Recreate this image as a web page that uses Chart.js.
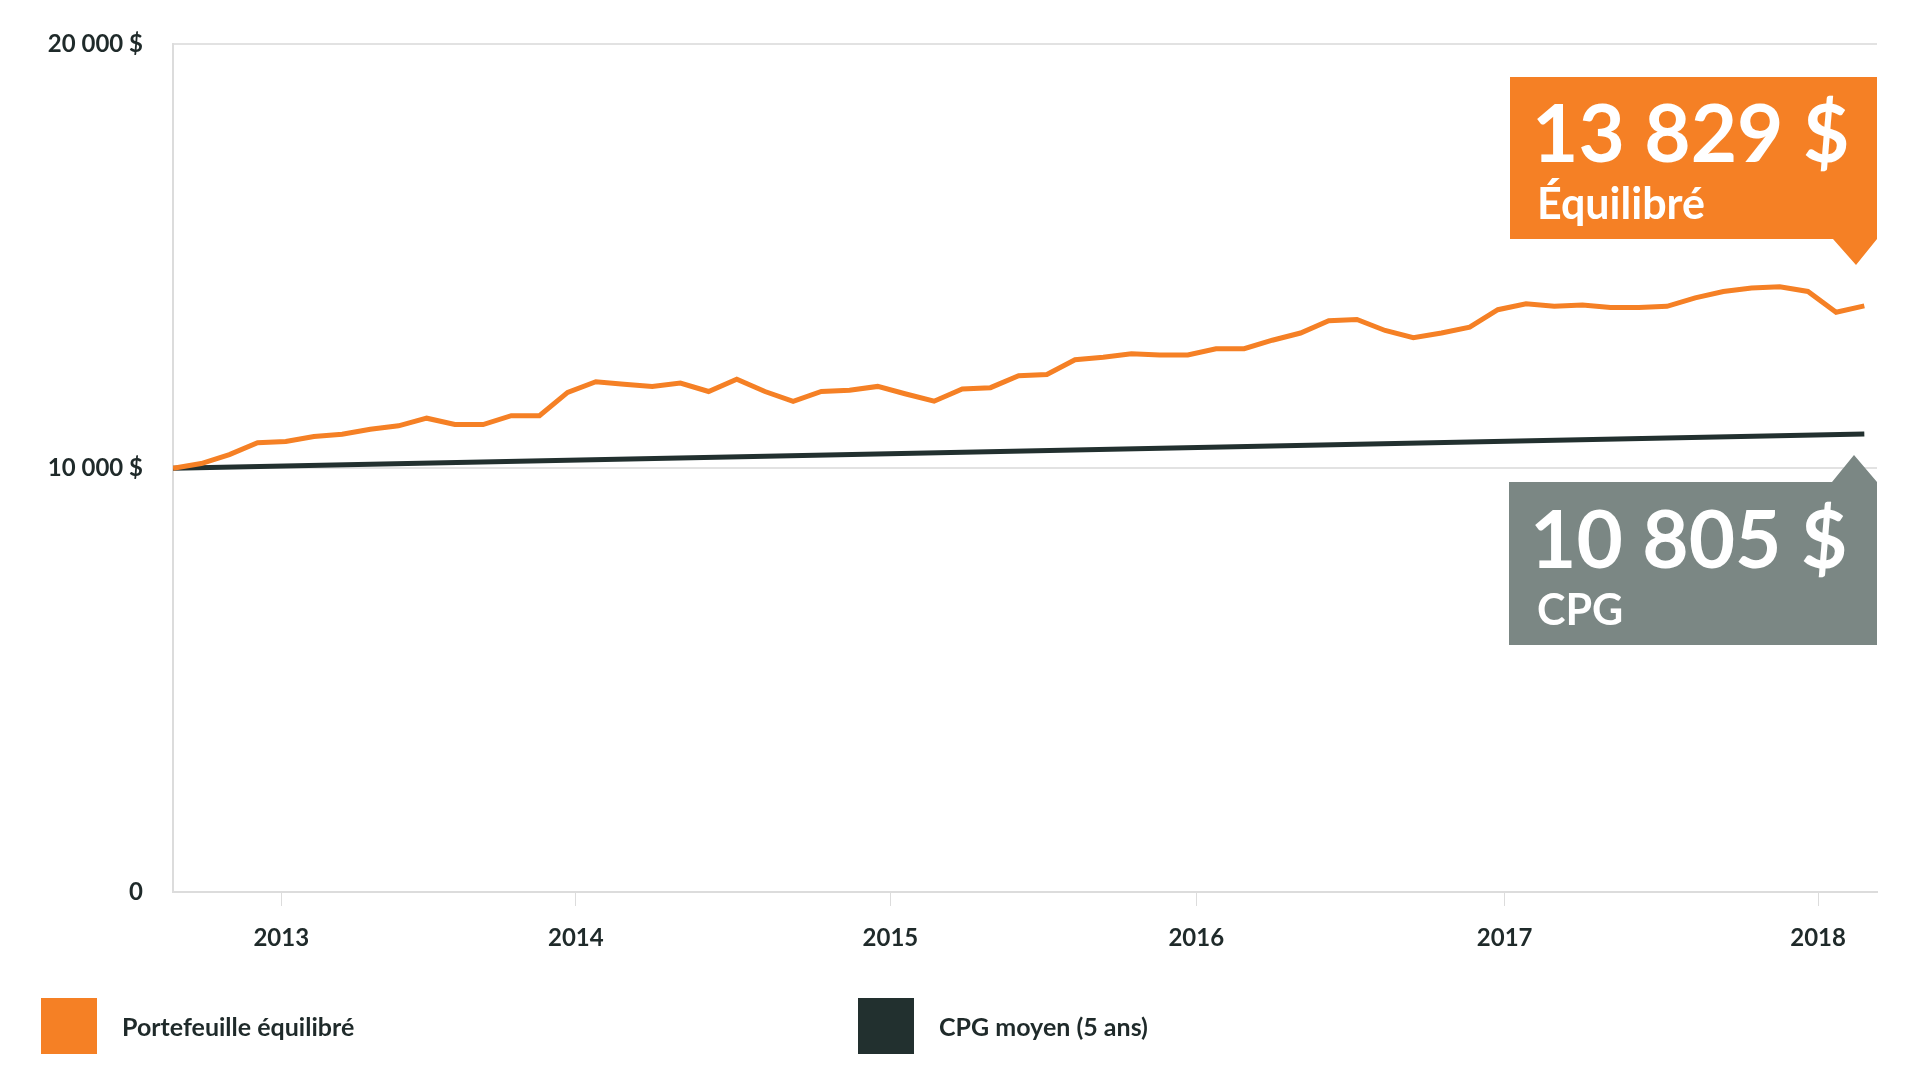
<!DOCTYPE html>
<html><head><meta charset="utf-8">
<script src="https://cdn.jsdelivr.net/npm/chart.js@4"></script>
<style>
html,body{margin:0;padding:0;background:#fff;}
#wrap{position:relative;width:1920px;height:1080px;font-family:Lato,sans-serif;}
.lg{position:absolute;top:998px;display:flex;align-items:center;font-weight:700;font-size:25px;color:#1f2a2a;}
.sw{width:56px;height:56px;margin-right:25px;}
</style></head><body>
<div id="wrap"><canvas id="c" width="1920" height="1080"></canvas>
<div class="lg" style="left:41px"><div class="sw" style="background:#F58025"></div>Portefeuille équilibré</div>
<div class="lg" style="left:858px"><div class="sw" style="background:#22302F"></div>CPG moyen (5 ans)</div>
</div>
<script>
const balanced = [10000,10110,10320,10600,10630,10750,10800,10920,11000,11180,11030,11030,11240,11240,11790,12040,11980,11930,12010,11810,12100,11810,11580,11810,11840,11930,11750,11580,11870,11900,12180,12210,12560,12620,12700,12670,12670,12820,12820,13020,13190,13480,13510,13250,13080,13190,13330,13740,13880,13820,13850,13790,13790,13820,14020,14170,14250,14280,14170,13680,13829];
const cpgX = [0, 60];
const cpgY = [10000, 10805];
const xTickPos = [3.84, 14.29, 25.45, 36.3, 47.24, 58.36];
const xTickLabels = ['2013','2014','2015','2016','2017','2018'];
const yTickLabels = {0:'0',10000:'10 000 $',20000:'20 000 $'};
const endBalanced = '13 829 $', endCpg = '10 805 $';

const labelsPlugin = {id:'boxes', afterDraw(ch){
  const c=ch.ctx; const R=ch.chartArea.right;
  c.save();
  c.fillStyle='#F58025';
  c.beginPath(); c.moveTo(R-367,77); c.lineTo(R,77); c.lineTo(R,239); c.lineTo(R-21,265); c.lineTo(R-44,239); c.lineTo(R-367,239); c.closePath(); c.fill();
  c.fillStyle='#7B8784';
  c.beginPath(); c.moveTo(R-368,482); c.lineTo(R-45,482); c.lineTo(R-23,455); c.lineTo(R,482); c.lineTo(R,645); c.lineTo(R-368,645); c.closePath(); c.fill();
  c.fillStyle='#fff'; c.textBaseline='alphabetic'; c.textAlign='left';
  c.font='700 80px Lato'; c.fillText(endBalanced,R-345,162); c.fillText(endCpg,R-347,568);
  c.font='700 43px Lato'; c.fillText('Équilibré',R-340,219); c.fillText('CPG',R-340,625);
  c.restore();
}};

new Chart(document.getElementById('c'),{
  type:'line',
  data:{datasets:[
    {data:balanced.map((v,i)=>({x:i,y:v})),borderColor:'#F58025',borderWidth:5,pointRadius:0,tension:0},
    {data:cpgX.map((x,i)=>({x:x,y:cpgY[i]})),borderColor:'#22302F',borderWidth:5,pointRadius:0,tension:0}
  ]},
  options:{responsive:false,animation:false,
    layout:{padding:{left:0,right:43,top:42,bottom:0}},
    plugins:{legend:{display:false},tooltip:{enabled:false}},
    scales:{
      x:{type:'linear',min:0,max:60.45,
        afterBuildTicks(a){a.ticks=xTickPos.map(v=>({value:v}));},
        afterFit(a){a.height=188;},
        ticks:{callback:(v,i)=>xTickLabels[i],font:{family:'Lato',weight:'700',size:24},color:'#1f2a2a',padding:18,maxRotation:0,autoSkip:false},
        grid:{drawOnChartArea:false,tickLength:14,color:'#dcdcdc'},
        border:{color:'#dcdcdc',width:2}},
      y:{min:0,max:20000,
        afterBuildTicks(a){a.ticks=[0,10000,20000].map(v=>({value:v}));},
        afterFit(a){a.width=173;},
        ticks:{callback:v=>yTickLabels[v],font:{family:'Lato',weight:'700',size:24},color:'#1f2a2a',padding:30},
        grid:{color:'#e2e2e2',lineWidth:2,drawTicks:false},
        border:{color:'#dcdcdc',width:2}}
    }},
  plugins:[labelsPlugin]
});
</script></body></html>
